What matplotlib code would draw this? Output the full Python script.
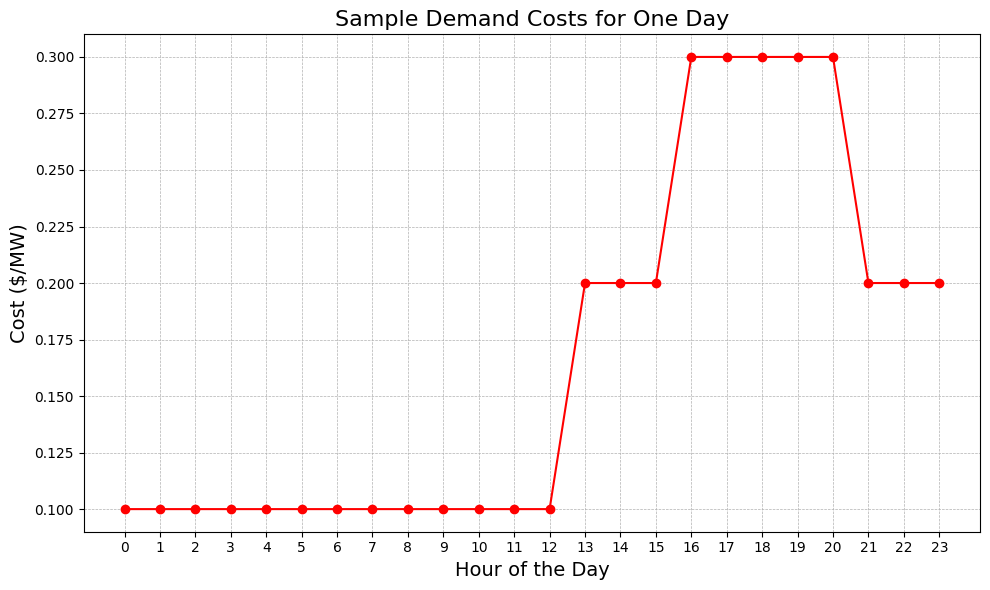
import matplotlib
matplotlib.use("Agg")
import matplotlib.pyplot as plt

hours = list(range(24))
costs = [0.1]*13 + [0.2, 0.2, 0.2] + [0.3, 0.3, 0.3, 0.3, 0.3] + [0.2, 0.2, 0.2]

fig, ax = plt.subplots(figsize=(10, 6), dpi=100)
ax.plot(hours, costs, color='red', marker='o', linestyle='-')
ax.set_title('Sample Demand Costs for One Day', fontsize=16)
ax.set_xlabel('Hour of the Day', fontsize=14)
ax.set_ylabel('Cost ($/MW)', fontsize=14)
ax.set_xticks(hours)
ax.grid(True, linestyle='--', linewidth=0.5)
fig.tight_layout()
fig.savefig('out.png', bbox_inches='tight')
